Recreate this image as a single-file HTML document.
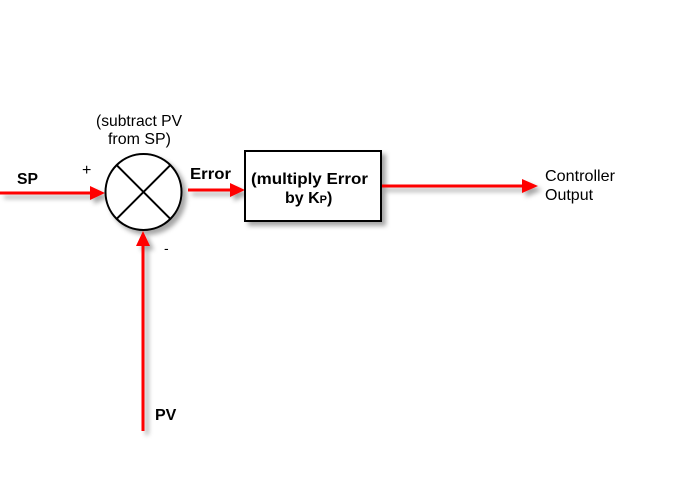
<!DOCTYPE html>
<html><head><meta charset="utf-8"><style>
html,body{margin:0;padding:0;background:#fff;}
svg{display:block;}
text{font-family:"Liberation Sans",sans-serif;fill:#000;}
</style></head><body>
<svg width="674" height="489" viewBox="0 0 674 489" xmlns="http://www.w3.org/2000/svg">
<defs>
<filter id="sh" x="-20%" y="-20%" width="140%" height="140%">
<feDropShadow dx="4" dy="4" stdDeviation="2.5" flood-color="#000" flood-opacity="0.35"/>
</filter>
</defs>
<g filter="url(#sh)">
<line x1="0" y1="193" x2="92" y2="193" stroke="#f00" stroke-width="3"/>
<polygon points="90,186 105,193 90,200" fill="#f00"/>
<line x1="188" y1="190" x2="232" y2="190" stroke="#f00" stroke-width="3"/>
<polygon points="230,183 245,190 230,197" fill="#f00"/>
<line x1="382" y1="186" x2="525" y2="186" stroke="#f00" stroke-width="3"/>
<polygon points="522,179 538,186 522,193" fill="#f00"/>
<line x1="143" y1="431" x2="143" y2="244" stroke="#f00" stroke-width="3"/>
<polygon points="136,246 143,231 150,246" fill="#f00"/>
<circle cx="143.5" cy="192" r="38" fill="#fff" stroke="#000" stroke-width="2"/>
<rect x="245" y="151" width="136" height="70" fill="#fff" stroke="#000" stroke-width="2"/>
</g>
<line x1="116.6" y1="165.1" x2="170.4" y2="218.9" stroke="#000" stroke-width="2"/>
<line x1="170.4" y1="165.1" x2="116.6" y2="218.9" stroke="#000" stroke-width="2"/>

<text x="17" y="184" font-size="16" font-weight="bold" textLength="21" lengthAdjust="spacingAndGlyphs">SP</text>
<text x="82" y="175" font-size="16">+</text>
<text x="96" y="126" font-size="16" textLength="86" lengthAdjust="spacingAndGlyphs">(subtract PV</text>
<text x="108" y="144" font-size="16" textLength="63" lengthAdjust="spacingAndGlyphs">from SP)</text>
<text x="190" y="179" font-size="16" font-weight="bold" textLength="41" lengthAdjust="spacingAndGlyphs">Error</text>
<text x="251" y="184" font-size="16" font-weight="bold" textLength="117" lengthAdjust="spacingAndGlyphs">(multiply Error</text>
<text x="285" y="203" font-size="16" font-weight="bold">by K<tspan font-size="11">P</tspan>)</text>
<text x="545" y="181" font-size="16" textLength="70" lengthAdjust="spacingAndGlyphs">Controller</text>
<text x="545" y="200" font-size="16">Output</text>
<text x="164" y="253" font-size="14">-</text>
<text x="155" y="420" font-size="16" font-weight="bold">PV</text>
</svg>
</body></html>
